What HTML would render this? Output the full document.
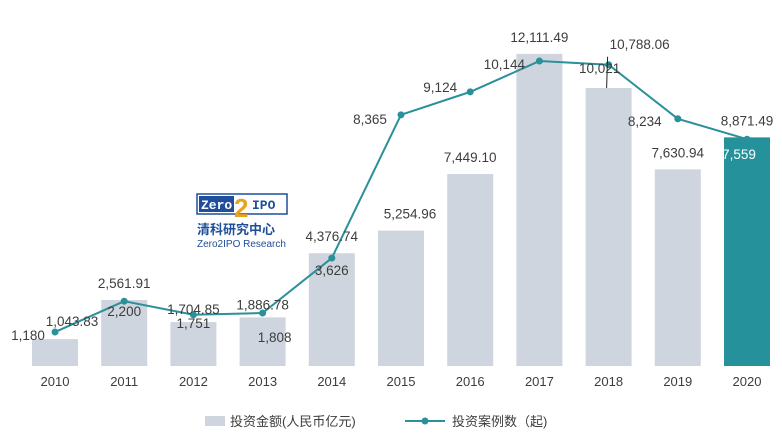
<!DOCTYPE html>
<html><head><meta charset="utf-8"><style>
body{margin:0;background:#fff;}
svg text{font-family:"Liberation Sans","Noto Sans CJK SC",sans-serif;}
</style></head><body>
<svg width="782" height="436" viewBox="0 0 782 436">
<g id="bars"></g><g id="line"></g><g id="labels"></g><g id="axis"></g>
<g>
 <rect x="197" y="194" width="90" height="20" fill="#fff" stroke="#1f4e9a" stroke-width="1.5"/>
 <rect x="199" y="196" width="35" height="16" fill="#1f4e9a"/>
 <text x="201" y="209" font-size="13" font-weight="bold" fill="#fff" style="font-family:'Liberation Mono',monospace">Zero</text>
 <text x="234" y="217" font-size="26" font-weight="bold" fill="#e8a51c">2</text>
 <text x="252" y="209" font-size="13" font-weight="bold" fill="#1f4e9a" style="font-family:'Liberation Mono',monospace">IPO</text>
 <text x="197" y="234" font-size="13" font-weight="bold" fill="#1f4e9a">清科研究中心</text>
 <text x="197" y="247" font-size="10" fill="#1f4e9a">Zero2IPO Research</text>
</g>
<g>
 <rect x="205" y="416" width="20" height="10" fill="#cfd5de"/>
 <text x="230" y="426" font-size="13" fill="#3d3d3d">投资金额(人民币亿元)</text>
 <line x1="405" y1="421" x2="445" y2="421" stroke="#2a9099" stroke-width="2"/>
 <circle cx="425" cy="421" r="3.5" fill="#2a9099"/>
 <text x="452" y="426" font-size="13" fill="#3d3d3d">投资案例数（起)</text>
</g>
</svg>
<script>
const years=["2010","2011","2012","2013","2014","2015","2016","2017","2018","2019","2020"];
const amounts=[1043.83,2561.91,1704.85,1886.78,4376.74,5254.96,7449.10,12111.49,10788.06,7630.94,8871.49];
const cases=[1180,2200,1751,1808,3626,8365,9124,10144,10021,8234,7559];
const barLabelOff=[[17,-17],[0,-16],[0,-12],[0,-12],[0,-16],[9,-16],[0,-16],[0,-16],[31,-43],[0,-16],[0,-16]];
const lineLabelOff=[[-27,4],[0,11],[0,9],[12,25],[0,13],[-31,5],[-30,-4],[-35,4],[-9,4],[-33,3],[-8,16]];
const NS="http://www.w3.org/2000/svg";
const xC=i=>55+i*69.2;
const yBar=v=>366-v*0.02577;
const yLine=v=>367.7-v*0.03023;
const fmt=(v,d)=>v.toLocaleString("en-US",{minimumFractionDigits:d,maximumFractionDigits:d});
function mk(tag,attrs,parent){const e=document.createElementNS(NS,tag);for(const k in attrs)e.setAttribute(k,attrs[k]);document.getElementById(parent).appendChild(e);return e;}
amounts.forEach((v,i)=>{
 const r=mk("rect",{x:xC(i)-23,y:yBar(v),width:46,height:366-yBar(v),fill:i===10?"#25929b":"#cfd5de"},"bars");
 
 
 const t=mk("text",{x:xC(i)+barLabelOff[i][0],y:yBar(v)+barLabelOff[i][1]+4,"text-anchor":"middle","font-size":"13.5",fill:"#3d3d3d"},"labels");
 t.textContent=fmt(v,2);
 
 
 const a=mk("text",{x:xC(i),y:386,"text-anchor":"middle","font-size":"13",fill:"#3d3d3d"},"axis");
 a.textContent=years[i];
 
 
});
const pts=cases.map((v,i)=>xC(i)+","+yLine(v)).join(" ");
const pl=mk("polyline",{points:pts,fill:"none",stroke:"#2a9099","stroke-width":"2"},"line");


mk("line",{x1:xC(8)-1,y1:yLine(cases[8])-8,x2:xC(8)-2,y2:yBar(amounts[8])},"labels").setAttribute("stroke","#222");
cases.forEach((v,i)=>{
 const c=mk("circle",{cx:xC(i),cy:yLine(v),r:3.5,fill:"#2a9099"},"line");
 
 
 const t=mk("text",{x:xC(i)+lineLabelOff[i][0],y:yLine(v)+lineLabelOff[i][1]+4,"text-anchor":"middle","font-size":"13.5",fill:i===10?"#fff":"#3d3d3d"},"labels");
 t.textContent=fmt(v,0);
 
 
});
</script>
</body></html>
